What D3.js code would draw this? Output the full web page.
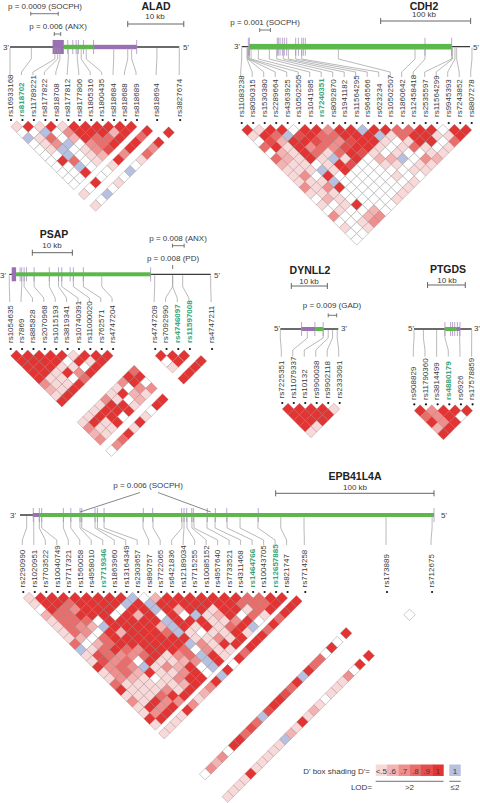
<!DOCTYPE html>
<html><head><meta charset="utf-8">
<style>html,body{margin:0;padding:0;background:#fff}svg{display:block}text{font-family:"Liberation Sans",Arial,sans-serif;fill:#3a3a3a}</style>
<script src="https://cdn.jsdelivr.net/npm/d3@7"></script>
</head><body><div id="c"></div>
<script>
// ---- LD codes: 5,6,7,8,9,1 = D' shade at LOD>2; b = D'=1 at LOD<=2; w = white
const aladSnps=["rs16933168","rs818702","rs11789221","rs8177822","rs818708","rs8177812","rs8177806","rs1805316","rs1800435","rs818684","rs818688","rs818689","rs818694","rs3827674"];
const aladGreen=["rs818702"];
const aladSlots=[0,1,2,3,4,5,6,7,8,9,10,11,12.76,14.77];
const aladKb=[0,3.8,8.0,8.5,8.9,10.4,12.0,12.7,13.6,18.5,21.0,21.7,26.2,30.2];
const aladRows=["51515111111","wwbw711161","b58w61881","w57bw781","w5bw579","wwbw56","w18w5","wwbw","ww1","ww","w"];
const aladCols=["1811715ww1w5","11785wbw5wbw5"];
const aladExonTicks=[10.3,11.2,11.8,12.2,13.1,14.9,22.6];

const cdh2Snps=["rs11083238","rs8090315","rs1530380","rs2289664","rs4363925","rs10502505","rs1041985","rs7240351","rs8092870","rs1941182","rs11564295","rs9646566","rs623234","rs10502507","rs1860642","rs12458418","rs2535597","rs11564299","rs9945393","rs7243852","rs8807278"];
const cdh2Green=["rs7240351"];
const cdh2Slots=[0,1,2,3,4,5,6,7,8,9,10,11,12,13,14,15,16,17,18,19,20];
const cdh2Kb=[0,5.9,6.7,7.4,8.5,10.4,18.5,30.7,38.9,46.3,51.9,60,66.7,107.4,192.6,203.7,233.3,234.4,237,238.9,255.9];
const cdh2Rows=["1511w11711b118811w11","518b9188111b5811551","w96119879115w511w8","81517879115w585w5","w651858195w5ww55","86515b51w66bw76","655w519ww55w55","555b51wwwww55","57w1wwwww5ww","555bwwwwww5","7571wwwww5","555wwwww5","w65wwww5","5w51www","w5ww6w","7ww67","ww57","5w5","ww","w"];
const cdh2ExonTicks=[7.4,8.5,39.6,40.7,42.6,45.2,47.4,50,60,63,66.7,68.5,70.7,203.7,233.3];

const psapSnps=["rs1054635","rs7869","rs885828","rs2070968","rs1015193","rs3819341","rs10740391","rs11000020","rs762571","rs4747204","rs4747209","rs7092990","rs4746097","rs11597008","rs4747211"];
const psapGreen=["rs4746097","rs11597008"];
const psapSlots=[0,1,2,3,4,5,6,7,8,9,12.7,13.7,14.73,15.75,17.7];
const psapKb=[0,3.1,3.7,6.2,10,12.3,13.1,16,18.5,23.1,36.3,40.8,40.8,43.3,50.3];
const psapRows=["111115111","1111w151","11155w1","115171","155w8","7551","651","51","1"];
const psapCols=["8175575555","111w1511117","1ww76w111556","11575651w1557","111111w515187w"];
const psapExonTicks=[2.7,3.1,3.7,4.3,6.2,10,12.3,13.1,15.2,16,18.5,35.3];

const dynSnps=["rs7225351","rs11079337","rs10132","rs9900038","rs9902118","rs2333091"];
const dynSlots=[0,1,2,3,4,5];
const dynKb=[0,7.5,11.9,13.3,14.5,15.8];
const dynRows=["11115","1111","111","15","5"];
const dynExonTicks=[5.9,9.6,11.9];

const ptgSnps=["rs908829","rs11790360","rs3814499","rs4880179","rs6926","rs17578859"];
const ptgGreen=["rs4880179"];
const ptgSlots=[0,1,2,3,4,5];
const ptgKb=[0,2.5,6,8.2,12.1,15.3];
const ptgRows=["17111","871w","171","61","1"];
const ptgExonTicks=[8.2,9.7,10.2,10.8,11.5,12.2];

const epbSnps=["rs2290990","rs1020951","rs7703522","rs10040749","rs7717321","rs1560058","rs4958010","rs7719346","rs1863960","rs13164349","rs2303657","rs890757","rs7722065","rs6421836","rs12189034","rs7715255","rs10085152","rs4957640","rs7733521","rs4311468","rs1464766","rs10043705","rs12657885","rs821747","rs7714258","rs173889","rs712675"];
const epbGreen=["rs7719346","rs1464766","rs12657885"];
const epbSlots=[0,1,2,3,4,5,6,7,8,9,10,11,12,13,14,15,16,17,18,19,20,21,22,23,24.54,31.65,35.57];
const epbKb=[4.2,8.7,12.2,13.7,27.4,32.1,37.9,39,47.4,48.9,53.1,77.7,84,102.3,103.6,105.5,108.6,109.9,118.1,123.2,130.8,139,150.3,164.7,179.4,231.2,260.3];
const epbRows=["511111111bw611111118811","51181111b1b11111118881","w187111w11b1611511581","688111w161w1wb561w85","5888w11111b1115571w","5876b11116b151581b","587w161118b5w5515","56w8111111155751","8w68111111b7511","b581871118w755","5987781578b15","5978w15567b1","1787b5761wb","578615571w","5765w5711","85555561","1555751","555811","75177","5171","571","11","5"];
const epbCols=["11181811181w1b1765715555","1w1w881b189119b89811w767w","w11w7555w565156b5555515555"];
const epbExonTicks=[8.4,12.2,13.7,27.4,32.1,37.9,39,47.4,48.9,53.1,77.9,83.8,102.1,103.6,105.3,108.5,109.5,118.3,123.4,130.6,150.5,261.5];

const legendCodes=["5","6","7","8","9","1"];
const legendLabels=["<.5",".6",".7",".8",".9","1"];

const shade={"5":"#f7d9d9","6":"#f3b3b2","7":"#ee8f8d","8":"#e86d6b","9":"#e44f4d","1":"#e13433","b":"#b6c0e0","w":"#ffffff"};
const GREEN="#5cb84a",PURPLE="#9a70b2",TICK="#b49ccb",CONN="#9c9c9c",DARK="#3a3a3a",GTEXT="#3aa57c";

const svg=d3.select("#c").append("svg").attr("width",480).attr("height",803);

function txt(g,x,y,s,o={}){return g.append("text").attr("x",x).attr("y",y).text(s)
  .attr("font-size",o.size||8).attr("text-anchor",o.anchor||"middle").attr("font-weight",o.weight||"normal");}
function bar(g,x0,x1,y,h,c,w){g.append("path").attr("d",`M${x0},${y-h}V${y+h}M${x0},${y}H${x1}M${x1},${y-h}V${y+h}`)
  .attr("fill","none").attr("stroke",c||"#555").attr("stroke-width",w||0.8);}

function panel(p){
  const g=svg.append("g");
  const kb=d3.scaleLinear().domain(p.kbDomain).range(p.kbRange);
  const sx=d3.scaleLinear().domain(p.slotDomain).range(p.slotRange);
  const px=p.slots.map(s=>sx(s));
  const half=Math.abs(sx(1)-sx(0))/2;
  g.append("line").attr("x1",kb(p.line[0])).attr("x2",kb(p.line[1])).attr("y1",p.track).attr("y2",p.track).attr("stroke",DARK).attr("stroke-width",1.3);
  g.selectAll("line.t").data(p.ticks).join("line").attr("x1",d=>kb(d)).attr("x2",d=>kb(d))
    .attr("y1",p.track-p.tickUp).attr("y2",p.track+p.tickDown).attr("stroke",TICK).attr("stroke-width",.9);
  p.exons.forEach(e=>g.append("rect").attr("x",kb(e[0])).attr("width",kb(e[1])-kb(e[0])).attr("y",p.track-e[3]).attr("height",e[3]*2).attr("fill",e[2]));
  p.kbPos.forEach((k,i)=>{
    const gx=kb(k),lx=px[i]-1;
    g.append("path").attr("d",d3.line()([[gx,p.track+1],[gx,p.y1],[lx,p.y2],[lx,p.y3]]))
      .attr("fill","none").attr("stroke",CONN).attr("stroke-width",.7);
  });
  p.snps.forEach((s,i)=>{
    const isG=(p.green||[]).includes(s);
    g.append("text").attr("transform",`translate(${px[i]-1},${p.labelBottom}) rotate(-90)`).attr("dy","0.35em")
      .attr("font-size",8).text(s).style("fill",isG?GTEXT:"#3a3a3a").attr("font-weight",isG?"bold":"normal");
    g.append("circle").attr("cx",px[i]).attr("cy",p.bullet).attr("r",1.1).attr("fill","#111");
  });
  const cells=[];
  p.rows.forEach((r,k)=>{[...r].forEach((c,m)=>cells.push({i:m,j:m+k+1,c}));});
  (p.cols||[]).forEach((r,ci)=>{const j=p.rows.length+1+ci;[...r].forEach((c,t)=>cells.push({i:j-1-t,j,c}));});
  g.selectAll("path.ld").data(cells).join("path").attr("class","ld")
    .attr("transform",d=>`translate(${(px[d.i]+px[d.j])/2},${p.yTop+(px[d.j]-px[d.i])/2})`)
    .attr("d",`M0,${-half}L${half},0L0,${half}L${-half},0Z`)
    .attr("fill",d=>shade[d.c]).attr("stroke",d=>d.c==="w"?"#a8a8a8":"#8f6f6f").attr("stroke-opacity",d=>d.c==="w"?1:.55).attr("stroke-width",.6);
  txt(g,p.title[1],p.title[2],p.title[0],{size:10.5,weight:"bold"}).style("fill","#222");
  txt(g,p.scale.tx,p.scale.ty,p.scale.label,{size:8});
  bar(g,kb(p.scale.kb[0]),kb(p.scale.kb[1]),p.scale.y,3,"#555",.9);
  (p.primes||[]).forEach(a=>txt(g,a[1],a[2],a[0],{size:8}));
  (p.notes||[]).forEach(n=>{
    txt(g,n.x,n.y,n.text,{size:8});
    if(n.kb) bar(g,kb(n.kb[0]),kb(n.kb[1]),n.by,2,"#555",.8);
    if(n.mark!=null) g.append("line").attr("x1",kb(n.mark)).attr("x2",kb(n.mark)).attr("y1",n.by-2).attr("y2",n.by+2).attr("stroke","#555").attr("stroke-width",.8);
    (n.to||[]).forEach(t=>g.append("line").attr("x1",t[0]).attr("y1",t[1]).attr("x2",kb(t[2])).attr("y2",t[3]).attr("stroke","#555").attr("stroke-width",.7));
  });
}

panel({snps:aladSnps,green:aladGreen,slots:aladSlots,kbPos:aladKb,rows:aladRows,cols:aladCols,ticks:aladExonTicks,
  kbDomain:[0,30.2],kbRange:[10,179.3],slotDomain:[0,11],slotRange:[11,137],
  line:[0,30.2],track:47,tickUp:7,tickDown:7,
  exons:[[7.6,9.6,PURPLE,7],[9.6,14.9,GREEN,2.2],[14.9,22.6,PURPLE,2.2]],
  y1:59,y2:72,y3:75,labelBottom:116.7,bullet:120,yTop:121,
  title:["ALAD",156,9.5],scale:{label:"10 kb",tx:155,ty:19,kb:[21,31],y:24},
  primes:[["3'",6,50],["5'",186,50]],
  notes:[{x:45,y:9,text:"p = 0.0009 (SOCPH)",kb:[3.7,8.6],by:13.7},{x:58,y:29,text:"p = 0.006 (ANX)",kb:[7.9,9.05],by:34}]});

panel({snps:cdh2Snps,green:cdh2Green,slots:cdh2Slots,kbPos:cdh2Kb,rows:cdh2Rows,ticks:cdh2ExonTicks,
  kbDomain:[0,253.7],kbRange:[241.7,470],slotDomain:[0,20],slotRange:[241.7,471.7],
  line:[0,253.7],track:46.7,tickUp:9,tickDown:9,
  exons:[[8.5,233.3,GREEN,2.8]],
  y1:59,y2:72,y3:77,labelBottom:117,bullet:123,yTop:124.3,
  title:["CDH2",424,9.5],scale:{label:"100 kb",tx:424,ty:17,kb:[154.4,254.4],y:21},
  primes:[["3'",237,49],["5'",476,50]],
  notes:[{x:265,y:25,text:"p = 0.001 (SOCPH)",kb:[20,31.9],by:30}]});

panel({snps:psapSnps,green:psapGreen,slots:psapSlots,kbPos:psapKb,rows:psapRows,cols:psapCols,ticks:psapExonTicks,
  kbDomain:[0,50.3],kbRange:[9.3,210.7],slotDomain:[0,9],slotRange:[10.7,113.1],
  line:[0,50.3],track:274.3,tickUp:7,tickDown:7,
  exons:[[0.6,1.7,PURPLE,7],[1.7,35.3,GREEN,2]],
  y1:286.7,y2:298,y3:302,labelBottom:343,bullet:349,yTop:350,
  title:["PSAP",54,238],scale:{label:"10 kb",tx:52,ty:248,kb:[5.75,15.75],y:252.7},
  primes:[["3'",3,278],["5'",217,278]],
  notes:[{x:178,y:241,text:"p = 0.008 (ANX)",kb:[40.75,43.67],by:245.7},{x:173,y:261,text:"p = 0.008 (PD)",mark:40.8,by:267}]});

panel({snps:dynSnps,slots:dynSlots,kbPos:dynKb,rows:dynRows,ticks:dynExonTicks,
  kbDomain:[0,16.1],kbRange:[280.3,338.3],slotDomain:[0,5],slotRange:[282.3,339.7],
  line:[0,16.1],track:329,tickUp:7,tickDown:7,
  exons:[[5.9,9.6,PURPLE,2],[9.6,11.9,GREEN,2]],
  y1:338,y2:350,y3:356.7,labelBottom:398.3,bullet:403,yTop:403.3,
  title:["DYNLL2",310,274],scale:{label:"10 kb",tx:309,ty:284,kb:[3.06,13.06],y:286},
  primes:[["5'",277,331],["3'",344,331]],
  notes:[{x:332,y:308,text:"p = 0.009 (GAD)",kb:[13.3,15.65],by:315.3}]});

panel({snps:ptgSnps,green:ptgGreen,slots:ptgSlots,kbPos:ptgKb,rows:ptgRows,ticks:ptgExonTicks,
  kbDomain:[0,15.3],kbRange:[414,471.7],slotDomain:[0,5],slotRange:[414.3,472.6],
  line:[0,15.3],track:329,tickUp:7,tickDown:7,
  exons:[[8.2,11.3,GREEN,2],[11.3,12.2,PURPLE,2]],
  y1:338,y2:350,y3:356.7,labelBottom:400,bullet:404.3,yTop:404.8,
  title:["PTGDS",448,273],scale:{label:"10 kb",tx:447,ty:283,kb:[3.6,13.6],y:285},
  primes:[["5'",411,331],["3'",477,331]]});

panel({snps:epbSnps,green:epbGreen,slots:epbSlots,kbPos:epbKb,rows:epbRows,cols:epbCols,ticks:epbExonTicks,
  kbDomain:[0,261.5],kbRange:[20,434],slotDomain:[0,23],slotRange:[23.3,287.6],
  line:[0,261.5],track:515,tickUp:7,tickDown:7,
  exons:[[8.1,12.2,PURPLE,2],[12.2,261.5,GREEN,2]],
  y1:528,y2:540,y3:545,labelBottom:587.5,bullet:592,yTop:592.3,
  title:["EPB41L4A",355,480],scale:{label:"100 kb",tx:355,ty:490,kb:[161.5,261.5],y:493.3},
  primes:[["3'",13,518],["5'",444,518]],
  notes:[{x:148,y:488,text:"p = 0.006 (SOCPH)",to:[[140,492.5,37.9,512],[158,492.5,120.5,512]]}]});

const lg=svg.append("g");
const lx=d3.scaleBand().domain(legendCodes).range([375.7,443.5]);
lg.selectAll("rect.l").data(legendCodes).join("rect").attr("x",d=>lx(d)).attr("y",764.5).attr("width",lx.bandwidth()+.2).attr("height",11.5).attr("fill",d=>shade[d]);
lg.selectAll("text.l").data(legendCodes).join("text").attr("x",d=>lx(d)+lx.bandwidth()/2).attr("y",773.5).attr("text-anchor","middle").attr("font-size",8).text((d,i)=>legendLabels[i]);
lg.append("rect").attr("x",449.3).attr("y",764.5).attr("width",11.4).attr("height",11.5).attr("fill",shade.b);
txt(lg,455,773.5,"1",{size:8});
txt(lg,370,773.5,"D' box shading  D'=",{size:8,anchor:"end"});
txt(lg,372,790,"LOD=",{size:8,anchor:"end"});
lg.append("line").attr("x1",375.7).attr("x2",443.5).attr("y1",781.3).attr("y2",781.3).attr("stroke","#333").attr("stroke-width",.7);
lg.append("line").attr("x1",449.3).attr("x2",460.7).attr("y1",781.3).attr("y2",781.3).attr("stroke","#333").attr("stroke-width",.7);
txt(lg,409.5,790,">2",{size:8});
txt(lg,455,790,"≤2",{size:8});
</script></body></html>
